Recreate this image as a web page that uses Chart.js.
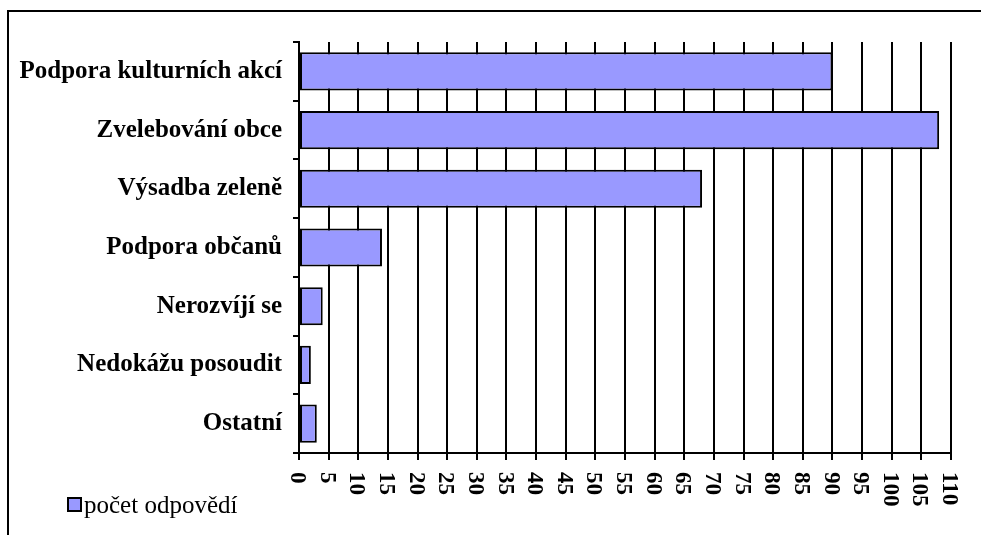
<!DOCTYPE html>
<html lang="cs">
<head>
<meta charset="utf-8">
<title>Rozvoj obce</title>
<script src="https://cdn.jsdelivr.net/npm/chart.js@4/dist/chart.umd.min.js"></script>
<style>
  html, body { margin: 0; padding: 0; background: #fff; overflow: hidden; }
  #wrap { position: relative; width: 981px; height: 535px; }
  #frame {
    position: absolute; left: 7px; top: 10px; width: 1000px; height: 600px;
    border-left: 2px solid #000; border-top: 2px solid #000;
    pointer-events: none;
  }
  canvas { position: absolute; left: 0; top: 0; }
</style>
</head>
<body>
<div id="wrap">
  <canvas id="chart" width="981" height="535"></canvas>
  <div id="frame"></div>
</div>
<script>
  // Odpovědi z dotazníku, shora dolů tak, jak jsou v grafu.
  const categories = [
    'Podpora kulturních akcí',
    'Zvelebování obce',
    'Výsadba zeleně',
    'Podpora občanů',
    'Nerozvíjí se',
    'Nedokážu posoudit',
    'Ostatní',
  ];
  const answers = [90, 108, 68, 14, 4, 2, 3];
  const seriesLabel = 'počet odpovědí';
  const xMax = 110;
  const xStep = 5;

  const BAR = '#9999ff';
  const INK = '#000000';
  const SERIF = '"Liberation Serif", "Times New Roman", serif';

  // Popisky osy x jsou v originále otočené o 90° po směru hodinových ručiček
  // (čtou se shora dolů) — to Chart.js samo neumí, kreslíme je tedy sami.
  const rotatedTicks = {
    id: 'rotatedTicks',
    afterDraw(chart) {
      const scale = chart.scales.x;
      const ctx = chart.ctx;
      ctx.save();
      ctx.fillStyle = INK;
      ctx.font = 'bold 23px ' + SERIF;
      ctx.textAlign = 'left';
      ctx.textBaseline = 'middle';
      scale.ticks.forEach((tick) => {
        const x = scale.getPixelForValue(tick.value);
        ctx.save();
        ctx.translate(x, scale.top + 19);
        ctx.rotate(Math.PI / 2);
        ctx.fillText(String(tick.value), 0, 2);
        ctx.restore();
      });
      ctx.restore();
    },
  };

  // Legenda vlevo dole: čtvereček hned u textu, jako v původním grafu.
  const legendBox = {
    id: 'legendBox',
    afterDraw(chart) {
      const ctx = chart.ctx;
      const ds = chart.data.datasets[0];
      ctx.save();
      ctx.fillStyle = ds.backgroundColor;
      ctx.fillRect(68, 498, 13, 13);
      ctx.strokeStyle = INK;
      ctx.lineWidth = 2;
      ctx.strokeRect(68, 498, 13, 13);
      ctx.fillStyle = INK;
      ctx.font = '25px ' + SERIF;
      ctx.textAlign = 'left';
      ctx.textBaseline = 'alphabetic';
      ctx.fillText(ds.label, 84, 513);
      ctx.restore();
    },
  };

  function draw() {
    new Chart(document.getElementById('chart'), {
      type: 'bar',
      data: {
        labels: categories,
        datasets: [
          {
            label: seriesLabel,
            data: answers,
            backgroundColor: BAR,
            borderColor: INK,
            borderWidth: 2,
            borderSkipped: false,
            barPercentage: 0.65,
            categoryPercentage: 1,
          },
        ],
      },
      options: {
        indexAxis: 'y',
        responsive: false,
        animation: false,
        events: [],
        layout: { padding: { top: 42, right: 30, left: 0, bottom: 0 } },
        plugins: {
          legend: { display: false },
          tooltip: { enabled: false },
        },
        scales: {
          x: {
            type: 'linear',
            min: 0,
            max: xMax,
            ticks: { stepSize: xStep, display: false },
            grid: {
              color: INK,
              lineWidth: 2,
              drawTicks: true,
              tickLength: 7,
            },
            border: { color: INK, width: 2 },
            afterFit: (scale) => { scale.height = 82; },
          },
          y: {
            grid: {
              offset: true,
              drawOnChartArea: false,
              drawTicks: true,
              tickLength: 6,
              color: INK,
              lineWidth: 2,
            },
            border: { color: INK, width: 2 },
            ticks: {
              color: INK,
              padding: 11,
              font: { family: SERIF, size: 25, weight: 'bold' },
            },
            afterFit: (scale) => { scale.width = 299; },
          },
        },
      },
      plugins: [rotatedTicks, legendBox],
    });
  }

  Promise.all([
    document.fonts.load('bold 25px "Liberation Serif"'),
    document.fonts.load('25px "Liberation Serif"'),
  ]).then(draw, draw);
</script>
</body>
</html>
